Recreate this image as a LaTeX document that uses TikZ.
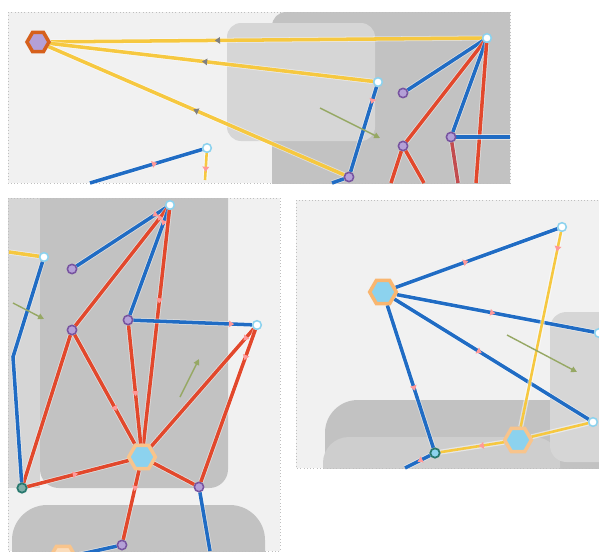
\documentclass[tikz,border=0pt]{standalone}
\usepackage{tikz}
\usetikzlibrary{arrows.meta,positioning,shapes.geometric,decorations.markings}
\definecolor{paneBg}{RGB}{241,241,241}
\definecolor{zoneLight}{RGB}{214,214,214}
\definecolor{zoneMid}{RGB}{206,206,206}
\definecolor{zoneDark}{RGB}{194,194,194}
\definecolor{linkBlue}{RGB}{32,108,196}
\definecolor{linkRed}{RGB}{226,72,44}
\definecolor{linkYellow}{RGB}{246,200,64}
\definecolor{hexOrange}{RGB}{214,96,28}
\definecolor{hexPeach}{RGB}{248,196,140}
\definecolor{dotLav}{RGB}{180,160,215}
\definecolor{dotPurple}{RGB}{120,84,160}
\definecolor{dotCyan}{RGB}{140,210,238}
\definecolor{dotTeal}{RGB}{40,120,110}
\definecolor{arrowOlive}{RGB}{150,168,100}
\pgfdeclarelayer{zones}
\pgfdeclarelayer{links}
\pgfsetlayers{zones,links,main}

\begin{document}
\begin{tikzpicture}[x=0.03cm, y=-0.03cm,
    stop/.style={circle, draw=dotCyan, fill=white, line width=1.3pt, inner sep=0pt, minimum size=0.26cm},
    pstop/.style={circle, draw=dotPurple, fill=dotLav, line width=1.3pt, inner sep=0pt, minimum size=0.28cm},
    tstop/.style={circle, draw=dotTeal, fill=dotCyan, line width=1.5pt, inner sep=0pt, minimum size=0.28cm},
    hub/.style={regular polygon, regular polygon sides=6, inner sep=0pt, minimum size=0.8cm, line width=3pt, fill=dotCyan, draw=#1},
    link/.style={line width=3pt, draw=#1, preaction={draw=white, draw opacity=.5, line width=4.3pt}},
    flow/.style={postaction={decorate, decoration={markings, mark=at position #1 with {\arrow[pink!80!red]{Triangle[length=4.5pt,width=5.5pt]}}}}},
    grayflow/.style={postaction={decorate, decoration={markings, mark=at position #1 with {\arrow[gray]{Triangle[length=4.5pt,width=5.5pt]}}}}},
    drift/.style={-{Triangle[length=5pt,width=5pt]}, arrowOlive, line width=1.2pt}
]
    \useasboundingbox (0,0) rectangle (599,551);
    % Panes and shaded zones
    \begin{pgfonlayer}{zones}
        \fill[white] (0,0) rectangle (599,551);
        \begin{scope}
            \clip (8,12) rectangle (510,183);
            \fill[paneBg] (8,12) rectangle (510,183);
            \fill[zoneDark, rounded corners=12pt] (272,12) rectangle (540,210);
            \fill[zoneLight, rounded corners=12pt] (227,23) rectangle (375,141);
        \end{scope}
        \draw[dotted, gray!50, line width=0.8pt] (8,12) rectangle (510,183);
        \begin{scope}
            \clip (8,198) rectangle (280,551);
            \fill[paneBg] (8,198) rectangle (280,551);
            \fill[zoneLight] (8,198) rectangle (40,488);
            \fill[zoneDark, rounded corners=16pt] (40,170) rectangle (228,488);
            \fill[zoneDark, rounded corners=30pt] (12,505) rectangle (265,600);
        \end{scope}
        \draw[dotted, gray!50, line width=0.8pt] (8,198) rectangle (280,551);
        \begin{scope}
            \clip (296,200) rectangle (599,468);
            \fill[paneBg] (296,200) rectangle (599,468);
            \fill[zoneDark, rounded corners=28pt] (325,400) rectangle (640,520);
            \fill[zoneMid, rounded corners=22pt] (323,437) rectangle (560,520);
            \fill[zoneLight, rounded corners=14pt] (550,312) rectangle (640,462);
        \end{scope}
        \draw[dotted, gray!50, line width=0.8pt] (296,200) rectangle (599,468);
    \end{pgfonlayer}

    % Top pane stops
    \node[hub=hexOrange, fill=dotLav, minimum size=0.66cm] (hubA) at (38,42) {};
    \node[stop] (top) at (487,38) {};
    \node[stop] (mid) at (378,82) {};
    \node[stop] (low) at (207,148) {};
    \node[pstop] (p1) at (403,93) {};
    \node[pstop] (p2) at (403,146) {};
    \node[pstop] (p3) at (451,137) {};
    \node[pstop] (p4) at (349,177) {};
    \coordinate (t1) at (90,183);
    \coordinate (t2) at (205,180);
    \coordinate (t3) at (510,137);
    \coordinate (t4) at (391,183);
    \coordinate (t5) at (424,183);
    \coordinate (t6) at (476,183);
    \coordinate (t7) at (458,183);
    \coordinate (t8) at (332,183);

    % Left pane stops
    \node[stop] (a2) at (170,205) {};
    \node[stop] (b2) at (44,257) {};
    \node[pstop] (c2) at (72,269) {};
    \node[pstop] (d2) at (128,320) {};
    \node[pstop] (e2) at (72,330) {};
    \node[stop] (f2) at (257,325) {};
    \node[hub=hexPeach] (g2) at (142,457) {};
    \node[tstop, fill=dotTeal!60] (h2) at (22,488) {};
    \node[pstop] (i2) at (199,487) {};
    \node[pstop] (j2) at (122,545) {};
    \node[hub=hexPeach, fill=hexPeach!60] (k2) at (63,558) {};
    \coordinate (bend2) at (13,357);
    \coordinate (u1) at (9,252);
    \coordinate (u2) at (210,551);

    % Right pane stops
    \node[hub=hexPeach!80!orange] (hubK) at (383,292) {};
    \node[stop] (l3) at (562,227) {};
    \node[stop] (m3) at (599,333) {};
    \node[stop] (n3) at (593,422) {};
    \node[tstop] (o3) at (435,453) {};
    \node[hub=hexPeach] (hubP) at (518,440) {};
    \coordinate (v1) at (405,468);

    % Connectors
    \begin{pgfonlayer}{links}
        \draw[link=linkYellow, grayflow=0.62] (top) -- (hubA);
        \draw[link=linkYellow, grayflow=0.53] (mid) -- (hubA);
        \draw[link=linkYellow, grayflow=0.51] (p4) -- (hubA);
        \draw[link=linkBlue, flow=0.6] (t1) -- (low);
        \draw[link=linkYellow, flow=0.7, line width=2.2pt] (low) -- (t2);
        \draw[link=linkBlue] (top) -- (p1);
        \draw[link=linkRed] (top) -- (p2);
        \draw[link=linkBlue] (top) -- (p3);
        \draw[link=linkRed] (top) -- (t6);
        \draw[link=linkBlue] (p3) -- (t3);
        \draw[link=linkRed] (p2) -- (t4);
        \draw[link=linkRed] (p2) -- (t5);
        \draw[link=linkRed!70!dotPurple] (p3) -- (t7);
        \draw[link=linkBlue, flow=0.2] (mid) -- (p4);
        \draw[link=linkBlue] (p4) -- (t8);

        \draw[link=linkYellow] (u1) -- (b2);
        \draw[link=linkBlue, flow=0.15] (a2) -- (c2);
        \draw[link=linkRed, flow=0.1] (a2) -- (e2);
        \draw[link=linkBlue, flow=0.15] (a2) -- (d2);
        \draw[link=linkRed, flow=0.4] (a2) -- (g2);
        \draw[link=linkBlue, flow=0.85] (d2) -- (f2);
        \draw[link=linkRed, flow=0.6] (d2) -- (g2);
        \draw[link=linkRed, flow=0.7] (e2) -- (g2);
        \draw[link=linkRed] (e2) -- (h2);
        \draw[link=linkRed, flow=0.5] (h2) -- (g2);
        \draw[link=linkRed, flow=0.1] (f2) -- (g2);
        \draw[link=linkRed, flow=0.2] (f2) -- (i2);
        \draw[link=linkRed] (g2) -- (i2);
        \draw[link=linkRed, flow=0.3] (g2) -- (j2);
        \draw[link=linkBlue] (j2) -- (k2);
        \draw[link=linkBlue] (i2) -- (u2);
        \draw[link=linkBlue] (b2) -- (bend2) -- (h2);

        \draw[link=linkBlue, flow=0.45] (hubK) -- (l3);
        \draw[link=linkBlue, flow=0.5] (hubK) -- (m3);
        \draw[link=linkBlue, flow=0.45] (hubK) -- (n3);
        \draw[link=linkBlue, flow=0.6] (hubK) -- (o3);
        \draw[link=linkYellow, flow=0.1, line width=2.2pt] (l3) -- (hubP);
        \draw[link=linkYellow, flow=0.4, line width=2.2pt] (hubP) -- (o3);
        \draw[link=linkYellow, line width=2.2pt] (hubP) -- (n3);
        \draw[link=linkBlue, flow=0.5] (o3) -- (v1);
    \end{pgfonlayer}

    % Drift arrows
    \draw[drift] (320,108) -- (380,138);
    \draw[drift] (13,303) -- (44,319);
    \draw[drift] (180,397) -- (199,359);
    \draw[drift] (507,335) -- (577,372);
\end{tikzpicture}
\end{document}
